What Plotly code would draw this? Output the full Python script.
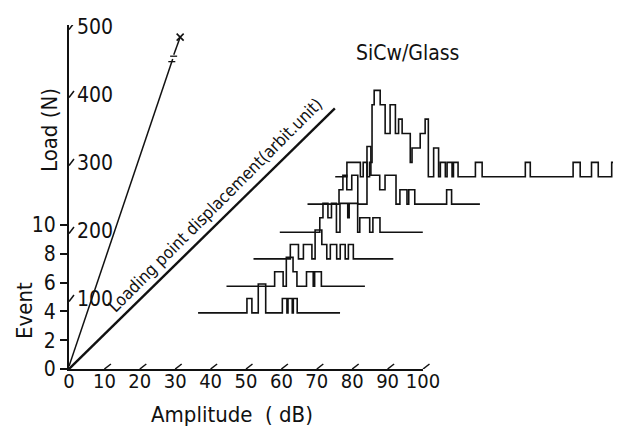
import plotly.graph_objects as go

# ---------------- data ----------------
AMP_TICKS = [0, 10, 20, 30, 40, 50, 60, 70, 80, 90, 100]
EVENT_TICKS = [0, 2, 4, 6, 8, 10]
LOAD_TICKS = [100, 200, 300, 400, 500]

# position of each amplitude histogram along the loading-point displacement (event units)
ROW_DEPTH = [3.9, 5.75, 7.65, 9.5, 11.45, 13.35]

# amplitude bin edges (dB) and event counts between consecutive edges
row1_amp = [20.6, 34.4, 35.8, 37.6, 39.7, 44.4, 45.7, 46.0, 47.2, 47.5, 48.6, 60.7]
row1_cnt = [0, 1, 0, 2, 0, 1, 0, 1, 0, 1, 0]

row2_amp = [21.1, 34.7, 37.1, 38.0, 39.9, 41.0, 43.7, 45.6, 46.0, 47.9, 60.2]
row2_cnt = [0, 1, 0, 2, 1, 0, 1, 0, 1, 0]

row3_amp = [21.0, 31.4, 33.7, 35.1, 37.5, 38.4, 40.3, 41.7, 42.7, 44.5, 45.5, 46.9, 47.8, 49.2, 60.5]
row3_cnt = [0, 1, 0, 1, 0, 2, 1, 0, 1, 0, 1, 0, 1, 0]

row4_amp = [20.9, 32.2, 33.1, 34.5, 35.5, 36.9, 37.9, 40.1, 40.5, 42.9, 43.5, 46.3, 47.2, 49.2, 61.3]
row4_cnt = [0, 1, 2, 1, 2, 0, 2, 1, 2, 0, 1, 0, 1, 0]

row5_amp = [20.8, 29.7, 30.8, 31.9, 33.3, 35.0, 37.6, 38.7, 41.2, 42.7, 45.8, 46.9, 48.9, 49.4,
            51.1, 60.1, 61.5, 69.5]
row5_cnt = [0, 1, 2, 1, 2, 0, 4, 2, 1, 2, 0, 1, 0, 1, 0, 1, 0]

row6_amp = [20.9, 24.2, 28.0, 28.8, 29.9, 30.6, 31.3, 31.9, 33.6, 35.0, 36.4, 37.9, 38.8, 39.8,
            42.1, 42.6, 44.9, 46.3, 47.2, 48.7, 50.1, 50.6, 52.0, 52.5, 53.9, 54.3, 55.6, 60.5,
            62.4, 74.6, 76.0, 88.1, 90.1, 93.3, 95.2, 99.0, 100.4, 100.6]
row6_cnt = [0, 1, 0, 1, 0, 1, 5, 6, 5, 3, 5, 3, 4, 3, 1, 2, 3, 4, 0, 2, 0, 1, 0, 1, 0, 1, 0,
            1, 0, 1, 0, 1, 0, 1, 0, 1, 0]

# load vs loading-point displacement (displacement in arbitrary units on the amplitude scale)
LOAD_DISP = [0, 29.3]
LOAD_N = [0, 452]
LOAD_TAIL_DISP = [29.6, 31.4]
LOAD_TAIL_N = [458, 484]
BREAK_N = [448, 456]
FRACTURE_DISP = [31.4]
FRACTURE_N = [484]

# loading point displacement axis (drawn obliquely)
DISP_X = [0, 75.1]
DISP_Y = [0, 18.1]

# ---------------- geometry / style ----------------
W, H = 621, 430
PAGE_OFF = 8                      # default body margin of the html page
ML, MT = 69 - PAGE_OFF, 25 - PAGE_OFF
MB = H - (369 - PAGE_OFF)
MR = 10
PW, PH = W - ML - MR, H - MT - MB
PX_PER_DB = 3.54
PX_PER_EVENT = 14.4
PX_PER_N = 0.68
LOAD_MIN = -4
K = PX_PER_EVENT / PX_PER_DB          # oblique shift (dB per event of depth)
INK = "#111111"
FONT = "DejaVu Sans Condensed, DejaVu Sans, sans-serif"


def px(xs):   # screen x -> paper
    return (xs - 69) / PW


def py(ys):   # screen y -> paper
    return (369 - ys) / PH


fig = go.Figure()


def step_path(edges, counts):
    xs, ys = [], []
    for i, c in enumerate(counts):
        xs += [edges[i], edges[i + 1]]
        ys += [c, c]
    return xs, ys


rows = [(row1_amp, row1_cnt), (row2_amp, row2_cnt), (row3_amp, row3_cnt),
        (row4_amp, row4_cnt), (row5_amp, row5_cnt), (row6_amp, row6_cnt)]
for depth, (amp, cnt) in zip(ROW_DEPTH, rows):
    xs, ys = step_path(amp, cnt)
    fig.add_trace(go.Scatter(x=[v + depth * K for v in xs], y=[v + depth for v in ys],
                             mode="lines", line=dict(color=INK, width=1.6),
                             hoverinfo="skip", showlegend=False))

# displacement axis
fig.add_trace(go.Scatter(x=DISP_X, y=DISP_Y, mode="lines", line=dict(color=INK, width=2.4),
                         hoverinfo="skip", showlegend=False))

# load line (on load axis)
fig.add_trace(go.Scatter(x=LOAD_DISP, y=LOAD_N, yaxis="y2", mode="lines",
                         line=dict(color=INK, width=1.5), hoverinfo="skip", showlegend=False))
fig.add_trace(go.Scatter(x=LOAD_TAIL_DISP, y=LOAD_TAIL_N, yaxis="y2", mode="lines",
                         line=dict(color=INK, width=1.5), hoverinfo="skip", showlegend=False))
for n in BREAK_N:
    xc = LOAD_DISP[1] * n / LOAD_N[1]
    d = 3.5 / PX_PER_DB
    fig.add_trace(go.Scatter(x=[xc - d, xc + d], y=[n, n], yaxis="y2", mode="lines",
                             line=dict(color=INK, width=1.3), hoverinfo="skip", showlegend=False))
fig.add_trace(go.Scatter(x=FRACTURE_DISP, y=FRACTURE_N, yaxis="y2", mode="markers",
                         marker=dict(symbol="x-thin", size=7, line=dict(color=INK, width=1.6)),
                         hoverinfo="skip", showlegend=False))

# slanted amplitude ticks
for v in AMP_TICKS[1:]:
    fig.add_trace(go.Scatter(x=[v, v + 6.5 / PX_PER_DB], y=[0, 5 / PX_PER_EVENT], mode="lines",
                             line=dict(color=INK, width=1.5), hoverinfo="skip", showlegend=False))
# slanted load ticks
for n in LOAD_TICKS:
    dn = 3.2 / PX_PER_N
    fig.add_trace(go.Scatter(x=[0, 5 / PX_PER_DB], y=[n - dn, n + dn], yaxis="y2", mode="lines",
                             line=dict(color=INK, width=1.5), hoverinfo="skip", showlegend=False))

# invisible trace so the amplitude axis (x2) is drawn
fig.add_trace(go.Scatter(x=[0], y=[0], xaxis="x2", mode="markers", marker=dict(opacity=0),
                         hoverinfo="skip", showlegend=False))

tickfont = dict(family=FONT, size=21, color=INK)
fig.update_layout(
    width=W, height=H,
    margin=dict(l=ML, r=MR, t=MT, b=MB, autoexpand=False),
    paper_bgcolor="white", plot_bgcolor="rgba(0,0,0,0)",
    font=dict(family=FONT, color=INK),
    xaxis=dict(range=[0, PW / PX_PER_DB], visible=False, fixedrange=True, automargin=False),
    xaxis2=dict(domain=[0, 100 * PX_PER_DB / PW], range=[0, 100], anchor="y",
                showline=True, linewidth=2, linecolor=INK, ticks="", tickvals=AMP_TICKS,
                tickangle=0, automargin=False, ticklabelstandoff=-7,
                showgrid=False, zeroline=False, tickfont=dict(family=FONT, size=20, color=INK)),
    yaxis=dict(range=[0, PH / PX_PER_EVENT], showline=True, linewidth=2, linecolor=INK,
               ticks="outside", ticklen=7, tickwidth=2, tickcolor=INK, tickvals=EVENT_TICKS,
               showgrid=False, zeroline=False, tickfont=tickfont, anchor="x", automargin=False),
    yaxis2=dict(range=[LOAD_MIN, LOAD_MIN + PH / PX_PER_N], overlaying="y", side="left",
                anchor="x", ticklabelposition="inside", ticks="", tickvals=LOAD_TICKS,
                ticklabeloverflow="allow", ticklabelstandoff=5,
                showline=False, showgrid=False, zeroline=False, tickfont=tickfont,
                automargin=False),
    annotations=[
        dict(text="Load (N)", xref="paper", yref="paper", x=px(49), y=py(130),
             xanchor="center", yanchor="middle",
             textangle=-90, showarrow=False, font=dict(size=22, family=FONT, color=INK)),
        dict(text="Event", xref="paper", yref="paper", x=px(24), y=py(311),
             xanchor="center", yanchor="middle",
             textangle=-90, showarrow=False, font=dict(size=22, family=FONT, color=INK)),
        dict(text="Amplitude\u00a0\u00a0(\u00a0dB)", xref="paper", yref="paper",
             x=px(232), y=py(414), xanchor="center", yanchor="middle",
             showarrow=False, font=dict(size=22, family=FONT, color=INK)),
        dict(text="SiCw/Glass", xref="paper", yref="paper", x=px(407), y=py(53),
             xanchor="center", yanchor="middle",
             showarrow=False, font=dict(size=21, family=FONT, color=INK)),
        dict(text="Loading point displacement(arbit.unit)", x=41.3, y=11.4, textangle=-45,
             xanchor="center", yanchor="middle",
             showarrow=False, font=dict(size=17, family=FONT, color=INK)),
    ],
)

fig.write_html("out.html")
